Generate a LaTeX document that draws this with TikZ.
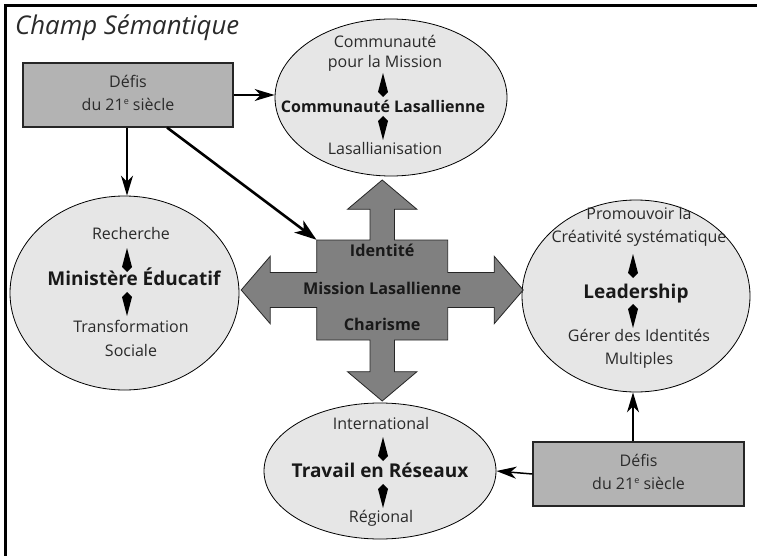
\documentclass[tikz,border=0pt]{standalone}
\usepackage{fontspec}
\setmainfont{Open Sans}
\usetikzlibrary{arrows.meta,calc,shapes.geometric}
\definecolor{ellfill}{HTML}{E6E6E6}
\definecolor{boxfill}{HTML}{B3B3B3}
\definecolor{crossfill}{HTML}{808080}
\definecolor{txt}{HTML}{2A2A2A}
\newcommand{\supe}{{\fontsize{9}{9}\selectfont\raisebox{6pt}{e}}}
\tikzset{
  ell/.style={draw=black, fill=ellfill, ellipse, line width=0.8pt, inner sep=0},
  defibox/.style={draw=black!85, fill=boxfill, line width=1.1pt, inner sep=0},
  reg/.style={font=\fontsize{16}{17}\selectfont, text=txt, inner sep=0, text height=11.5pt, text depth=3pt},
  bigb/.style={font=\fontsize{19}{20}\selectfont\bfseries, text=black!90, inner sep=0, text height=13pt, text depth=3pt},
  midb/.style={font=\fontsize{16}{17}\selectfont\bfseries, text=black!90, inner sep=0, text height=11.5pt, text depth=3pt},
  crossb/.style={font=\fontsize{16.2}{17}\selectfont\bfseries, text=black!90, inner sep=0, text height=11pt, text depth=3pt},
  conn/.style={draw=black, line width=1.5pt, -{Stealth[length=20pt,width=12pt,inset=6pt]}},
  kiteup/.pic={\fill[black] (0,0) -- (5,19) -- (0,24) -- (-5,19) -- cycle;},
  kitedown/.pic={\fill[black] (0,0) -- (5,-19) -- (0,-24) -- (-5,-19) -- cycle;}
}
\begin{document}
\begin{tikzpicture}[x=1pt,y=-1pt]
\useasboundingbox (0,0) rectangle (757,556);
\fill[white] (0,0) rectangle (757,556);
% frame
\draw[line width=2.5pt, black] (5.3,560) -- (5.3,5.3) -- (760,5.3);
% title
\node[anchor=base west, inner sep=0, font=\fontsize{25.8}{26}\selectfont\itshape, text=txt] (title) at (15,35) {Champ Sémantique};

% ellipses
\node[ell, minimum width=232pt, minimum height=157pt] (topell) at (391,97.5) {};
\node[ell, minimum width=229pt, minimum height=194pt] (leftell) at (124.5,293) {};
\node[ell, minimum width=228pt, minimum height=192pt] (rightell) at (636,296) {};
\node[ell, minimum width=232pt, minimum height=136pt] (botell) at (380,471) {};

% boxes
\node[defibox, minimum width=210pt, minimum height=64pt] (box1) at (128,95) {};
\node[defibox, minimum width=211pt, minimum height=64pt] (box2) at (638.5,474) {};
\node[reg] (b1a) at (128,83) {Défis};
\node[reg] (b1b) at (128,106) {du 21\supe{} siècle};
\node[reg] (b2a) at (638.5,462) {Défis};
\node[reg] (b2b) at (638.5,485) {du 21\supe{} siècle};

% cross
\fill[crossfill, draw=black!85, line width=0.8pt, shift={(382.2,290)}]
 (0,-110) -- (34.7,-80.7) -- (12.2,-80.7) -- (12.2,-50) -- (65.5,-50) -- (65.5,-17.5) -- (112,-17.5) -- (112,-33.7) -- (141,0) -- (112,33.7) -- (112,17.5) -- (65.5,17.5) -- (65.5,50) -- (12.2,50) -- (12.2,81.7) -- (34.7,81.7) -- (0,111) -- (-34.7,81.7) -- (-12.2,81.7) -- (-12.2,50) -- (-65.5,50) -- (-65.5,17.5) -- (-112,17.5) -- (-112,33.7) -- (-141,0) -- (-112,-33.7) -- (-112,-17.5) -- (-65.5,-17.5) -- (-65.5,-50) -- (-12.2,-50) -- (-12.2,-80.7) -- (-34.7,-80.7) -- cycle;
\node[minimum width=131pt, minimum height=100pt, inner sep=0] (cross) at (382.2,290) {};
\node[crossb] (c1) at (382.2,252) {Identité};
\node[crossb] (c2) at (382.2,290) {Mission Lasallienne};
\node[crossb] (c3) at (382.2,326) {Charisme};

% top ellipse text
\node[reg] (t1) at (385,43) {Communauté};
\node[reg] (t2) at (385,63) {pour la Mission};
\node[midb] (t3) at (383,108) {Communauté Lasallienne};
\node[reg] (t4) at (385,150) {Lasallianisation};
\pic at (383,73) {kiteup};
\pic at (383,140) {kitedown};

% left ellipse text
\node[reg] (l1) at (131,235) {Recherche};
\node[bigb] (l2) at (134,280) {Ministère Éducatif};
\node[reg] (l3) at (131,328) {Transformation};
\node[reg] (l4) at (131,352) {Sociale};
\pic at (127,248) {kiteup};
\pic at (127,316) {kitedown};

% right ellipse text
\node[reg] (r1) at (639,215) {Promouvoir la};
\node[reg] (r2) at (639,238) {Créativité systématique};
\node[bigb] (r3) at (636,293) {Leadership};
\node[reg] (r4) at (639,337) {Gérer des Identités};
\node[reg] (r5) at (639,360) {Multiples};
\pic at (633,254) {kiteup};
\pic at (633,328) {kitedown};

% bottom ellipse text
\node[reg] (o1) at (381,425) {International};
\node[bigb] (o2) at (380,472) {Travail en Réseaux};
\node[reg] (o3) at (381,518) {Régional};
\pic at (383,437) {kiteup};
\pic at (383,508) {kitedown};

% connectors
\coordinate (d1) at ($(box1.south west)!0.685!(box1.south east)$);
\draw[conn] (box1.east |- 0,95) -- (topell.west |- 0,95);
\draw[conn] (box1.south -| 127,0) -- (leftell.north -| 127,0);
\draw[conn, line width=2.6pt, -{Stealth[length=22pt,width=15pt,inset=6pt]}] (d1) -- (cross.north west);
\draw[conn] (box2.west) -- (botell.east);
\draw[conn] (box2.north -| 633,0) -- (rightell.south -| 633,0);
\end{tikzpicture}
\end{document}
